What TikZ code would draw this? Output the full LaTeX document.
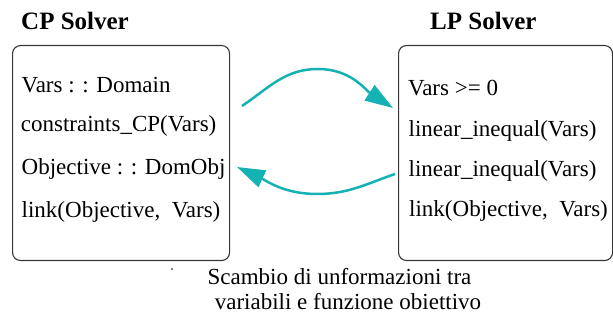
\documentclass[tikz,border=0pt]{standalone}
\usepackage{fontspec}
\setmainfont{Liberation Serif}
\usetikzlibrary{arrows.meta}
\definecolor{flow}{RGB}{20,178,178}
\definecolor{frame}{RGB}{55,55,55}
\begin{document}
\begin{tikzpicture}[x=1pt,y=1pt,
  solver/.style={draw=frame, line width=1.1pt, rounded corners=8pt,
    minimum height=215pt, inner sep=0pt, anchor=north west},
  item/.style={anchor=base west, inner sep=0pt, font=\fontsize{23}{27}\selectfont},
  heading/.style={anchor=base west, inner sep=0pt, font=\fontsize{25}{30}\selectfont\bfseries},
  note/.style={anchor=base, inner sep=0pt, font=\fontsize{23}{27}\selectfont},
  xchg/.style={draw=flow, line width=2.5pt, -{Triangle[length=28pt,width=18pt]}}]
\useasboundingbox (0,0) rectangle (613,320);

% solver frames
\node[solver, minimum width=217pt] (cp) at (12,275) {};
\node[solver, minimum width=214pt] (lp) at (398,275) {};

% headings
\node[heading] (cpt) at (21,290) {CP Solver};
\node[heading] (lpt) at (430,290) {LP Solver};

% CP model
\node[item] (cp1) at (21.5,227) {Vars : : Domain};
\node[item] (cp2) at (20.7,188) {constraints\_CP(Vars)};
\node[item] (cp3) at (21.5,145) {Objective : : DomObj};
\node[item] (cp4) at (21.5,102) {link(Objective,\ \ Vars)};

% LP model
\node[item] (lp1) at (408,224) {Vars >= 0};
\node[item] (lp2) at (408.5,183) {linear\_inequal(Vars)};
\node[item] (lp3) at (408.5,143) {linear\_inequal(Vars)};
\node[item] (lp4) at (409,103) {link(Objective,\ \ Vars)};

% exchange arrows
\coordinate (a1s) at (242,214);
\coordinate (a1top) at (318,251);
\coordinate (a1e) at (393,212);
\draw[xchg] (a1s) to[out=34,in=180] (a1top) to[out=0,in=147] (a1e);

\coordinate (a2s) at (395,146);
\coordinate (a2bot) at (317,126);
\coordinate (a2e) at (237,153);
\draw[xchg] (a2s) to[out=199,in=0] (a2bot) to[out=180,in=-25] (a2e);

% caption
\fill (172,51) circle (0.9pt);
\node[note] (n1) at (339.5,35) {Scambio di unformazioni tra};
\node[note] (n2) at (348,10) {variabili e funzione obiettivo};
\end{tikzpicture}
\end{document}
